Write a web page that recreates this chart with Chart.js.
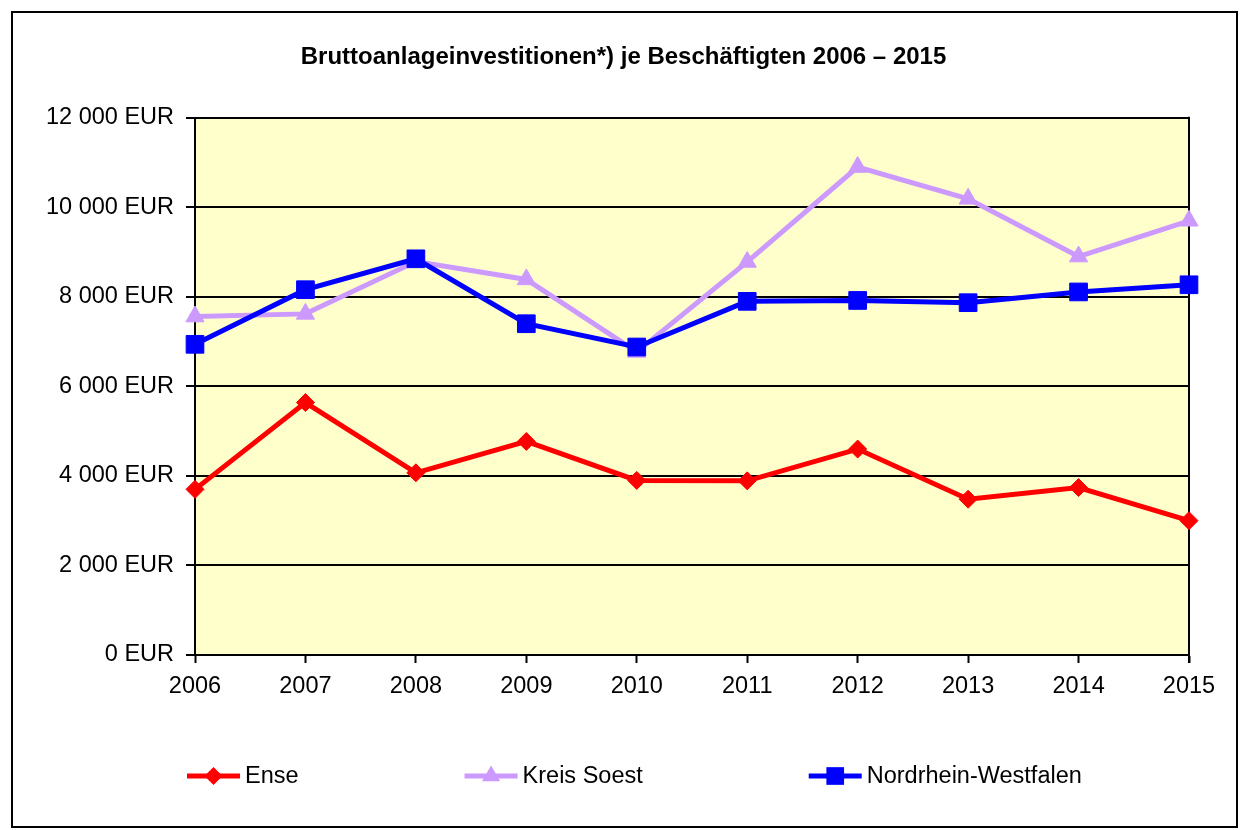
<!DOCTYPE html>
<html>
<head>
<meta charset="utf-8">
<script src="https://cdn.jsdelivr.net/npm/chart.js@4.4.1/dist/chart.umd.min.js"></script>
<style>
html,body{margin:0;padding:0;background:#fff;}
#wrap{width:1247px;height:830px;position:relative;}
</style>
</head>
<body>
<div id="wrap"><canvas id="c" width="1247" height="830"></canvas></div>
<script>
const TITLE = 'Bruttoanlageinvestitionen*) je Beschäftigten 2006 – 2015';
const YEARS = ['2006','2007','2008','2009','2010','2011','2012','2013','2014','2015'];
const SERIES_NAMES = ['Ense','Kreis Soest','Nordrhein-Westfalen'];
const ENSE = [3700, 5640, 4070, 4770, 3900, 3890, 4600, 3480, 3740, 3000];
const KREIS_SOEST = [7560, 7620, 8790, 8390, 6770, 8780, 10900, 10190, 8900, 9700];
const NRW = [6940, 8160, 8850, 7400, 6880, 7900, 7920, 7870, 8110, 8270];
const Y_MIN = 0, Y_MAX = 12000, Y_STEP = 2000;

const FONT = "'Liberation Sans', Arial, sans-serif";
const COLORS = ['#FF0000', '#CC99FF', '#0000FF'];
const STYLES = ['rectRot', 'triangle', 'rect'];
const RADII = [9, 10.5, 12.5];

function fmt(v){
  return String(Math.round(v)).replace(/\B(?=(\d{3})+(?!\d))/g, ' ') + ' EUR';
}

function drawMarker(ctx, style, x, y, r, color){
  ctx.save();
  ctx.fillStyle = color;
  ctx.beginPath();
  if (style === 'rectRot') {
    ctx.moveTo(x, y - r); ctx.lineTo(x + r, y); ctx.lineTo(x, y + r); ctx.lineTo(x - r, y);
  } else if (style === 'triangle') {
    const s = Math.sin(Math.PI/3) * r;
    ctx.moveTo(x, y - r); ctx.lineTo(x + s, y + r/2); ctx.lineTo(x - s, y + r/2);
  } else {
    const h = r * Math.SQRT1_2;
    ctx.rect(x - h, y - h, 2*h, 2*h);
  }
  ctx.closePath();
  ctx.fill();
  ctx.restore();
}

const framePlugin = {
  id: 'frame',
  beforeDraw(chart){
    const ctx = chart.ctx, a = chart.chartArea;
    ctx.save();
    ctx.fillStyle = '#FFFFFF';
    ctx.fillRect(0, 0, chart.width, chart.height);
    ctx.strokeStyle = '#000';
    ctx.lineWidth = 2;
    ctx.strokeRect(12, 12, 1225, 815);
    ctx.fillStyle = '#FFFFCC';
    ctx.fillRect(a.left, a.top, a.right - a.left, a.bottom - a.top);
    ctx.restore();
  },
  beforeDatasetsDraw(chart){
    const ctx = chart.ctx, a = chart.chartArea;
    ctx.save();
    ctx.strokeStyle = '#000';
    ctx.lineWidth = 2;
    ctx.beginPath();
    ctx.moveTo(a.right, a.top - 1);
    ctx.lineTo(a.right, a.bottom + 8);
    ctx.stroke();
    ctx.restore();
  },
  afterDraw(chart){
    const ctx = chart.ctx;
    ctx.save();
    ctx.font = '23.5px ' + FONT;
    ctx.textBaseline = 'middle';
    let x = 187;
    const y = 776, lineW = 53, gap = 166;
    chart.data.datasets.forEach((ds) => {
      ctx.strokeStyle = ds.borderColor;
      ctx.lineWidth = 5;
      ctx.beginPath();
      ctx.moveTo(x, y); ctx.lineTo(x + lineW, y);
      ctx.stroke();
      drawMarker(ctx, ds.pointStyle, x + lineW/2, y, ds.pointRadius, ds.borderColor);
      ctx.fillStyle = '#000';
      ctx.fillText(ds.label, x + lineW + 5, y + 1);
      x += lineW + 5 + ctx.measureText(ds.label).width + gap;
    });
    ctx.restore();
  }
};

const seriesData = [ENSE, KREIS_SOEST, NRW];
const datasets = seriesData.map((d, i) => ({
  label: SERIES_NAMES[i],
  data: d,
  borderColor: COLORS[i],
  backgroundColor: COLORS[i],
  borderWidth: 5,
  pointStyle: STYLES[i],
  pointRadius: RADII[i],
  pointHoverRadius: RADII[i],
  pointBorderWidth: 1,
  pointBackgroundColor: COLORS[i],
  pointBorderColor: COLORS[i],
  tension: 0,
  clip: false,
  order: 2 - i
}));

new Chart(document.getElementById('c'), {
  type: 'line',
  data: { labels: YEARS, datasets },
  options: {
    responsive: false,
    animation: false,
    events: [],
    layout: { padding: { left: 0, right: 0, top: 0, bottom: 0 } },
    plugins: {
      legend: { display: false },
      tooltip: { enabled: false },
      title: {
        display: true,
        text: TITLE,
        color: '#000',
        font: { family: FONT, size: 24, weight: 'bold' },
        padding: { top: 43, bottom: 46 }
      }
    },
    scales: {
      x: {
        offset: false,
        grid: { drawOnChartArea: false, color: '#000', tickColor: '#000', tickWidth: 2, tickLength: 8 },
        border: { color: '#000', width: 2 },
        ticks: { color: '#000', font: { family: FONT, size: 23.5 }, padding: 9, maxRotation: 0, autoSkip: false },
        afterFit(scale){ scale.height = 175; }
      },
      y: {
        min: Y_MIN, max: Y_MAX,
        grid: { color: '#000', lineWidth: 2, tickColor: '#000', tickWidth: 2, tickLength: 9 },
        border: { color: '#000', width: 2 },
        ticks: { stepSize: Y_STEP, color: '#000', font: { family: FONT, size: 23.5 }, padding: 12, callback: (v) => fmt(v) },
        afterFit(scale){ scale.width = 195; }
      },
      yRight: {
        position: 'right',
        display: true,
        grid: { display: false, drawTicks: false },
        border: { display: false },
        ticks: { display: false },
        afterFit(scale){ scale.width = 58; }
      }
    }
  },
  plugins: [framePlugin]
});
</script>
</body>
</html>
